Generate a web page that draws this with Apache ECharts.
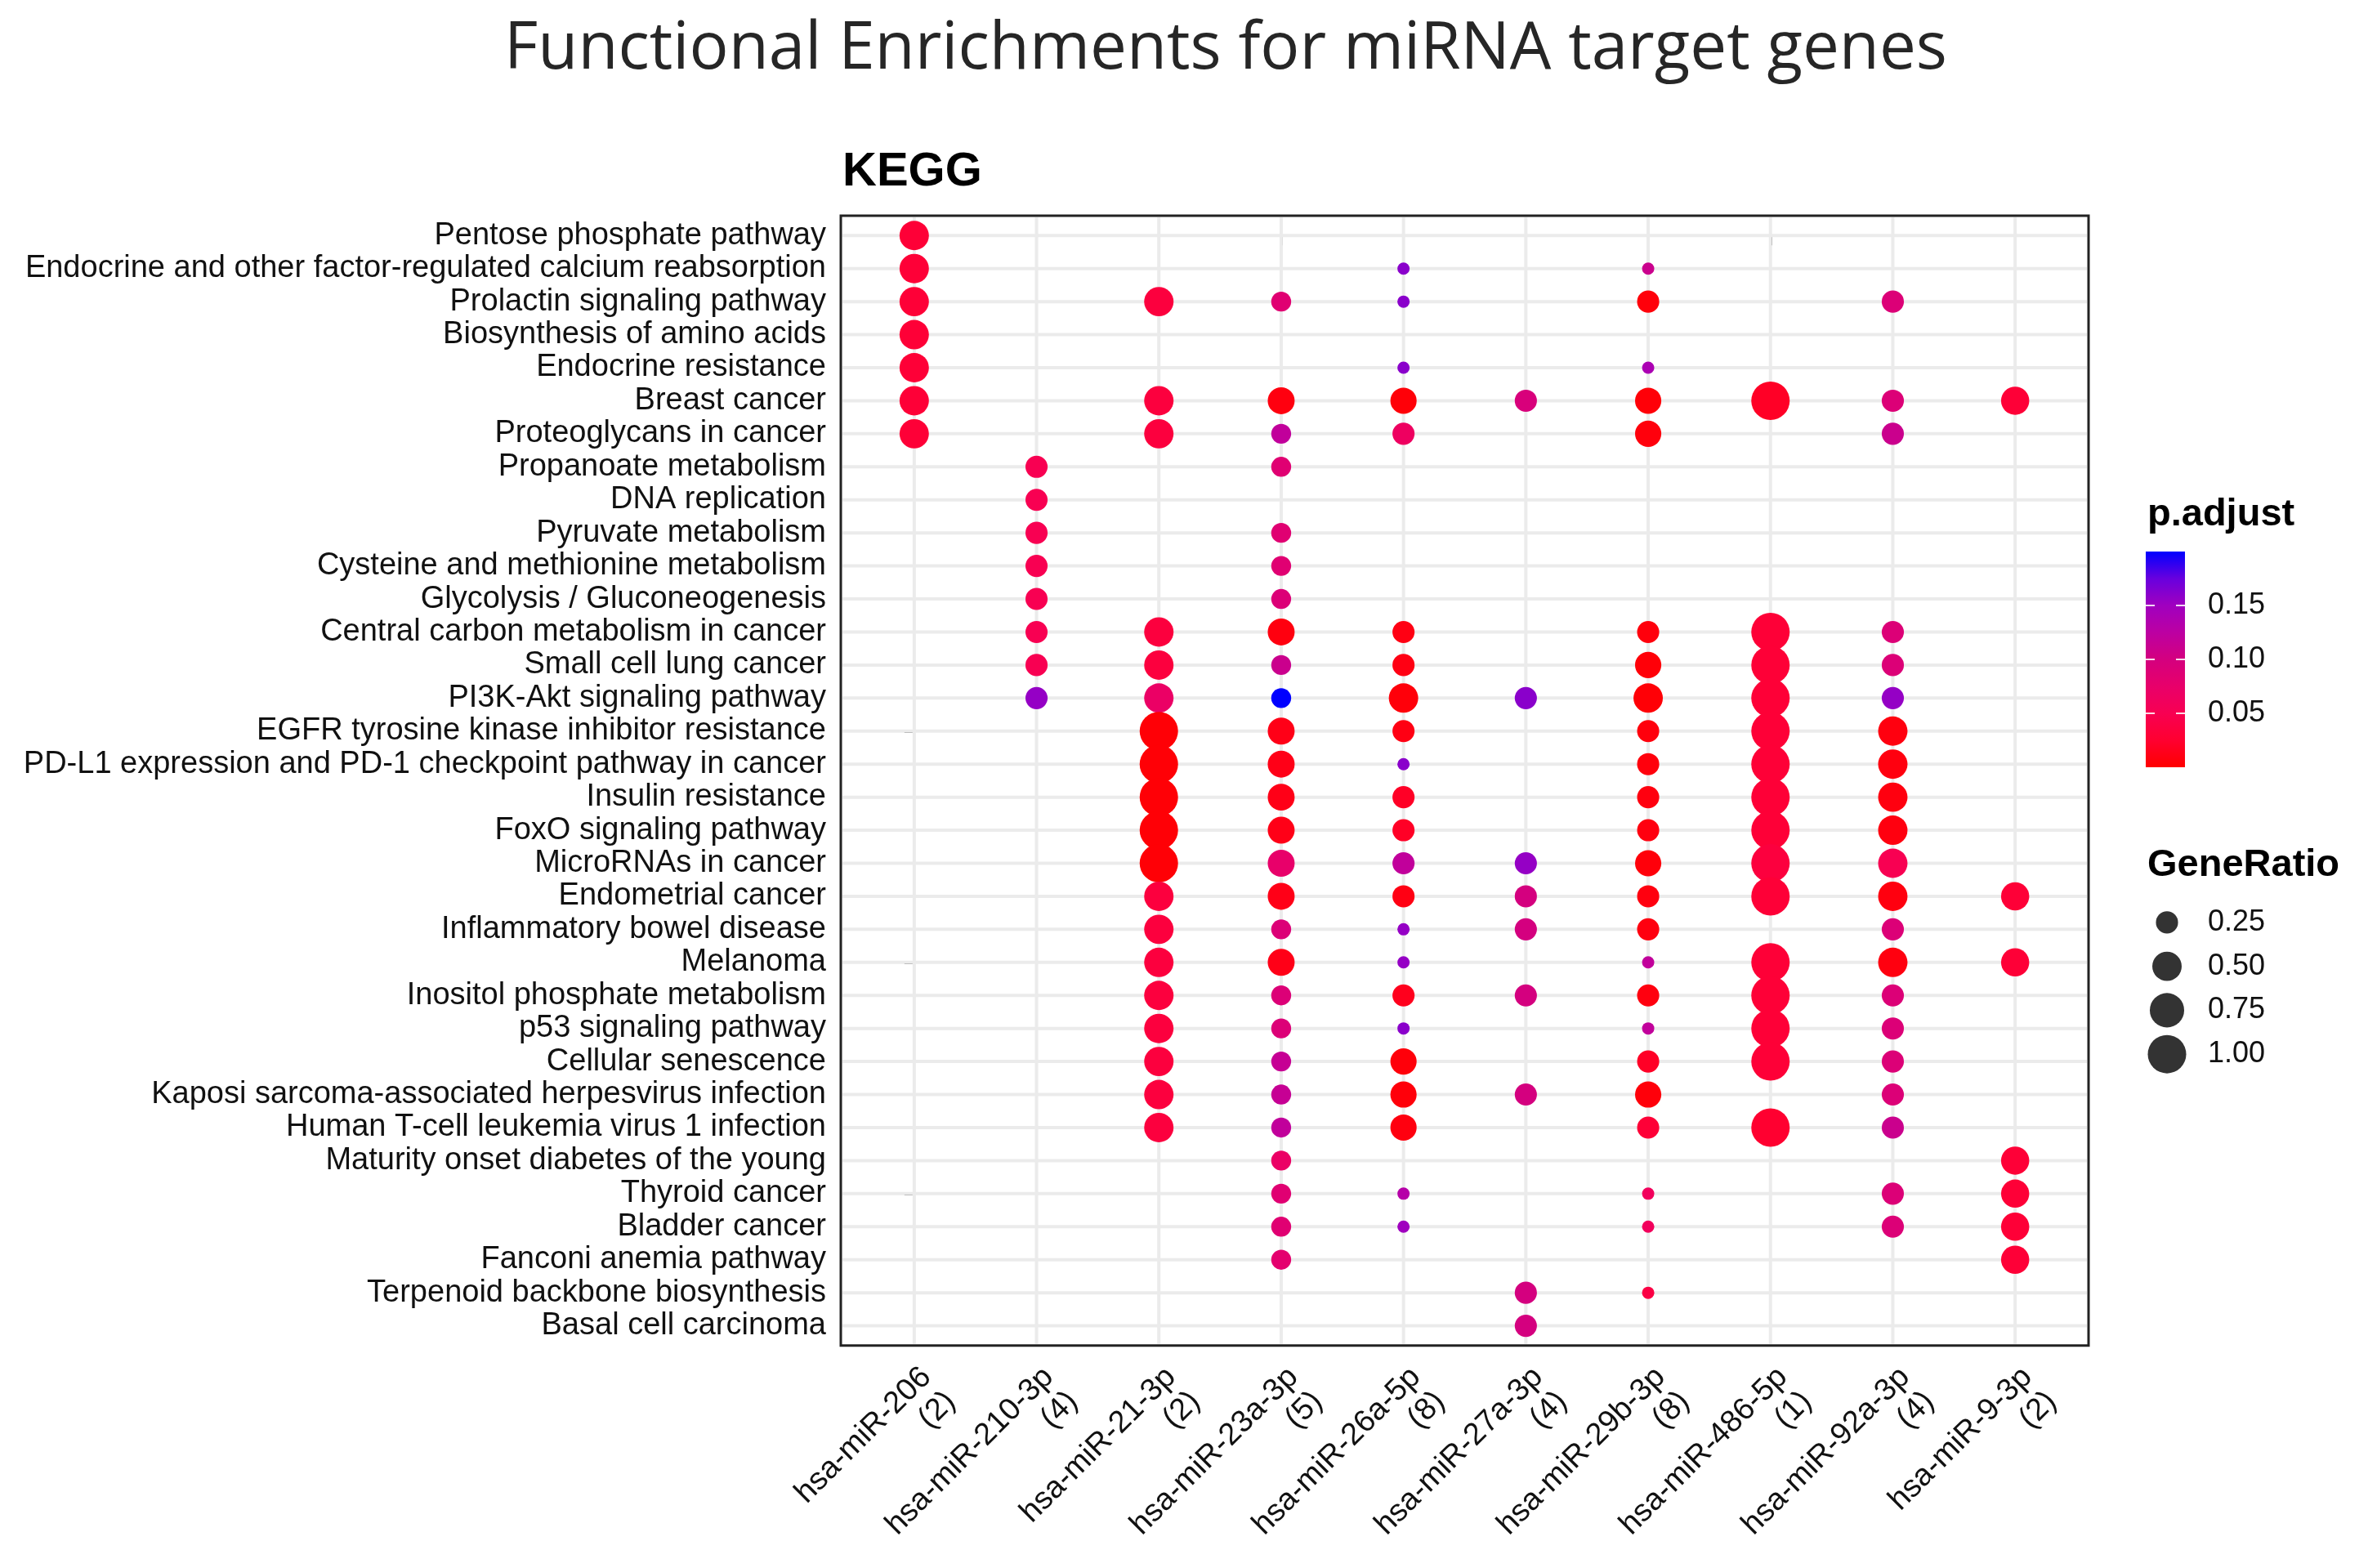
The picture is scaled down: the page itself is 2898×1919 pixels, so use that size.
<!DOCTYPE html>
<html><head><meta charset="utf-8">
<script src="https://cdn.jsdelivr.net/npm/echarts@6/dist/echarts.min.js"></script>
<style>html,body{margin:0;padding:0;background:#fff}#c{width:2898px;height:1919px}</style>
</head><body><div id="c"></div>
<script>
// ---------------- data ----------------
const titleText = 'Functional Enrichments for miRNA target genes';
const panelTitle = 'KEGG';
const mirnaNames = ['hsa-miR-206','hsa-miR-210-3p','hsa-miR-21-3p','hsa-miR-23a-3p','hsa-miR-26a-5p',
                    'hsa-miR-27a-3p','hsa-miR-29b-3p','hsa-miR-486-5p','hsa-miR-92a-3p','hsa-miR-9-3p'];
const mirnaCounts = [2, 4, 2, 5, 8, 4, 8, 1, 4, 2];
const pathways = [
  'Pentose phosphate pathway',
  'Endocrine and other factor-regulated calcium reabsorption',
  'Prolactin signaling pathway',
  'Biosynthesis of amino acids',
  'Endocrine resistance',
  'Breast cancer',
  'Proteoglycans in cancer',
  'Propanoate metabolism',
  'DNA replication',
  'Pyruvate metabolism',
  'Cysteine and methionine metabolism',
  'Glycolysis / Gluconeogenesis',
  'Central carbon metabolism in cancer',
  'Small cell lung cancer',
  'PI3K-Akt signaling pathway',
  'EGFR tyrosine kinase inhibitor resistance',
  'PD-L1 expression and PD-1 checkpoint pathway in cancer',
  'Insulin resistance',
  'FoxO signaling pathway',
  'MicroRNAs in cancer',
  'Endometrial cancer',
  'Inflammatory bowel disease',
  'Melanoma',
  'Inositol phosphate metabolism',
  'p53 signaling pathway',
  'Cellular senescence',
  'Kaposi sarcoma-associated herpesvirus infection',
  'Human T-cell leukemia virus 1 infection',
  'Maturity onset diabetes of the young',
  'Thyroid cancer',
  'Bladder cancer',
  'Fanconi anemia pathway',
  'Terpenoid backbone biosynthesis',
  'Basal cell carcinoma'
];
// each entry: [pathway index, GeneRatio, p.adjust]
const miR206 = [[0,0.5,0.03],[1,0.5,0.03],[2,0.5,0.03],[3,0.5,0.03],[4,0.5,0.03],[5,0.5,0.03],[6,0.5,0.03]];
const miR210_3p = [[7,0.25,0.05],[8,0.25,0.05],[9,0.25,0.05],[10,0.25,0.05],[11,0.25,0.05],[12,0.25,0.05],[13,0.25,0.05],[14,0.25,0.155]];
const miR21_3p = [[2,0.5,0.035],[5,0.5,0.035],[6,0.5,0.035],[12,0.5,0.035],[13,0.5,0.035],[14,0.5,0.07],
  [15,1.0,0.003],[16,1.0,0.003],[17,1.0,0.003],[18,1.0,0.003],[19,1.0,0.003],
  [20,0.5,0.035],[21,0.5,0.035],[22,0.5,0.035],[23,0.5,0.035],[24,0.5,0.035],[25,0.5,0.035],[26,0.5,0.035],[27,0.5,0.035]];
const miR23a_3p = [[2,0.2,0.085],[5,0.4,0.008],[6,0.2,0.12],[7,0.2,0.085],[9,0.2,0.085],[10,0.2,0.085],[11,0.2,0.09],
  [12,0.4,0.008],[13,0.2,0.11],[14,0.2,0.2],[15,0.4,0.012],[16,0.4,0.012],[17,0.4,0.012],[18,0.4,0.012],[19,0.4,0.075],
  [20,0.4,0.012],[21,0.2,0.09],[22,0.4,0.012],[23,0.2,0.09],[24,0.2,0.09],[25,0.2,0.115],[26,0.2,0.115],[27,0.2,0.12],
  [28,0.2,0.07],[29,0.2,0.085],[30,0.2,0.085],[31,0.2,0.08]];
const miR26a_5p = [[1,0.125,0.16],[2,0.125,0.16],[4,0.125,0.16],[5,0.375,0.004],[6,0.25,0.065],[12,0.25,0.01],[13,0.25,0.01],
  [14,0.5,0.005],[15,0.25,0.01],[16,0.125,0.16],[17,0.25,0.02],[18,0.25,0.02],[19,0.25,0.12],[20,0.25,0.01],[21,0.125,0.155],
  [22,0.125,0.155],[23,0.25,0.015],[24,0.125,0.16],[25,0.375,0.005],[26,0.375,0.005],[27,0.375,0.008],[29,0.125,0.13],[30,0.125,0.15]];
const miR27a_3p = [[5,0.25,0.095],[14,0.25,0.16],[19,0.25,0.155],[20,0.25,0.1],[21,0.25,0.1],[23,0.25,0.1],[26,0.25,0.1],[32,0.25,0.1],[33,0.25,0.1]];
const miR29b_3p = [[1,0.125,0.11],[2,0.25,0.005],[4,0.125,0.14],[5,0.375,0.004],[6,0.375,0.006],[12,0.25,0.006],[13,0.375,0.004],
  [14,0.5,0.003],[15,0.25,0.006],[16,0.25,0.006],[17,0.25,0.008],[18,0.25,0.008],[19,0.375,0.005],[20,0.25,0.008],[21,0.25,0.008],
  [22,0.125,0.12],[23,0.25,0.008],[24,0.125,0.12],[25,0.25,0.02],[26,0.375,0.005],[27,0.25,0.03],[29,0.125,0.06],[30,0.125,0.06],[32,0.125,0.04]];
const miR486_5p = [[5,1.0,0.02],[12,1.0,0.03],[13,1.0,0.03],[14,1.0,0.03],[15,1.0,0.03],[16,1.0,0.03],[17,1.0,0.03],[18,1.0,0.03],
  [19,1.0,0.035],[20,1.0,0.03],[22,1.0,0.03],[23,1.0,0.03],[24,1.0,0.03],[25,1.0,0.03],[27,1.0,0.025]];
const miR92a_3p = [[2,0.25,0.09],[5,0.25,0.09],[6,0.25,0.11],[12,0.25,0.09],[13,0.25,0.09],[14,0.25,0.155],[15,0.5,0.008],[16,0.5,0.008],
  [17,0.5,0.008],[18,0.5,0.008],[19,0.5,0.05],[20,0.5,0.008],[21,0.25,0.09],[22,0.5,0.008],[23,0.25,0.09],[24,0.25,0.09],[25,0.25,0.09],
  [26,0.25,0.09],[27,0.25,0.11],[29,0.25,0.09],[30,0.25,0.09]];
const miR9_3p = [[5,0.45,0.03],[20,0.45,0.03],[22,0.45,0.03],[28,0.45,0.03],[29,0.45,0.03],[30,0.45,0.03],[31,0.45,0.03]];
const colorbarTicks = [0.05, 0.10, 0.15];
const pAdjustRange = [0, 0.2];
const geneRatioBreaks = [0.25, 0.50, 0.75, 1.00];

// ---------------- styling ----------------
const columns = [miR206, miR210_3p, miR21_3p, miR23a_3p, miR26a_5p, miR27a_3p, miR29b_3p, miR486_5p, miR92a_3p, miR9_3p];
const xLabels = mirnaNames.map((n, i) => n + '\n(' + mirnaCounts[i] + ')');
const dots = [];
columns.forEach((col, c) => col.forEach(d => dots.push([c, d[0], d[1], d[2]])));

const GR_MIN = 0.125, GR_MAX = 1.0;
function dotSize(gr) {
  const s = Math.sqrt(Math.max(0, (gr - GR_MIN) / (GR_MAX - GR_MIN)));
  return 15 + 32 * s;
}
// red (low p.adjust) -> blue (high p.adjust), evenly spaced stops
const gradStops = ['#FF0000', '#FF0030', '#F80052', '#E8006A', '#D4007F', '#BC00A2', '#A000BF', '#6800DE', '#0000FF'];

const font = 'Liberation Sans, Arial, sans-serif';
const txt = '#111';

const chart = echarts.init(document.getElementById('c'), null, {renderer: 'canvas'});
chart.setOption({
  backgroundColor: '#ffffff',
  animation: false,
  textStyle: {fontFamily: font},
  graphic: [
    {type:'text', x: 1500, y: 61, style:{text: titleText, font: '400 80px "Open Sans", sans-serif', fill:'#262626', align:'center', verticalAlign:'middle'}},
    {type:'text', x: 1031, y: 211, style:{text: panelTitle, font: 'bold 58px ' + font, fill:'#000', align:'left', verticalAlign:'middle'}},
    {type:'text', x: 2628, y: 630, style:{text: 'p.adjust', font: 'bold 47px ' + font, fill:'#000', align:'left', verticalAlign:'middle'}},
    {type:'text', x: 2628, y: 1059, style:{text: 'GeneRatio', font: 'bold 47px ' + font, fill:'#000', align:'left', verticalAlign:'middle'}}
  ],
  grid: [
    {left: 1029, top: 264, width: 1527, height: 1386, show: true, borderColor: '#222', borderWidth: 3, backgroundColor: '#fff'},
    {left: 2626, top: 675, width: 48, height: 264},
    {left: 2602, top: 1102, width: 100, height: 215}
  ],
  xAxis: [
    {gridIndex: 0, type: 'value', min: -0.6, max: mirnaNames.length - 0.4,
     axisLine: {show: false}, splitLine: {show: false},
     axisTick: {show: true, customValues: mirnaNames.map((n, i) => i), length: 12, lineStyle: {color: '#333', width: 3}},
     axisLabel: {customValues: mirnaNames.map((n, i) => i), formatter: v => xLabels[Math.round(v)],
                 rotate: 45, margin: 18, fontSize: 38, color: txt, fontFamily: font,
                 align: 'right', verticalAlign: 'top', lineHeight: 42}},
    {gridIndex: 1, type: 'category', data: ['p.adjust'], show: false},
    {gridIndex: 2, type: 'value', min: 0, max: 1, show: false}
  ],
  yAxis: [
    {gridIndex: 0, type: 'value', inverse: true, min: -0.6, max: pathways.length - 0.4,
     axisLine: {show: false}, splitLine: {show: false},
     axisTick: {show: true, customValues: pathways.map((n, i) => i), length: 12, lineStyle: {color: '#333', width: 3}},
     axisLabel: {customValues: pathways.map((n, i) => i), formatter: v => pathways[Math.round(v)],
                 margin: 18, fontSize: 38, color: txt, fontFamily: font}},
    {gridIndex: 1, type: 'value', min: pAdjustRange[0], max: pAdjustRange[1], position: 'right', z: 10,
     axisLine: {show: false}, splitLine: {show: false},
     axisTick: {show: true, inside: true, customValues: colorbarTicks, length: 11, lineStyle: {color: 'rgba(255,255,255,0.85)', width: 2}},
     axisLabel: {customValues: colorbarTicks, formatter: v => v.toFixed(2), margin: 28, fontSize: 36, color: txt, fontFamily: font}},
    {gridIndex: 1, type: 'value', min: pAdjustRange[0], max: pAdjustRange[1], position: 'left', z: 10,
     axisLine: {show: false}, splitLine: {show: false}, axisLabel: {show: false},
     axisTick: {show: true, inside: true, customValues: colorbarTicks, length: 11, lineStyle: {color: 'rgba(255,255,255,0.85)', width: 2}}},
    {gridIndex: 2, type: 'category', inverse: true, position: 'right', data: geneRatioBreaks.map(v => v.toFixed(2)),
     axisLine: {show: false}, axisTick: {show: false}, splitLine: {show: false},
     axisLabel: {margin: 0, fontSize: 36, color: txt, fontFamily: font}}
  ],
  visualMap: [{
    type: 'continuous', show: false, seriesIndex: 2, dimension: 3,
    min: pAdjustRange[0], max: pAdjustRange[1], inRange: {color: gradStops}
  }],
  series: [
    {type: 'custom', xAxisIndex: 0, yAxisIndex: 0, z: 1, silent: true,
     data: mirnaNames.map((n, i) => [i, 0]),
     renderItem: (params, api) => {
       const cs = params.coordSys; const p = api.coord([api.value(0), 0]);
       return {type: 'line', shape: {x1: p[0], y1: cs.y + 2, x2: p[0], y2: cs.y + cs.height - 2}, style: {stroke: '#EBEBEB', lineWidth: 4}};
     }},
    {type: 'custom', xAxisIndex: 0, yAxisIndex: 0, z: 1, silent: true,
     data: pathways.map((n, i) => [0, i]),
     renderItem: (params, api) => {
       const cs = params.coordSys; const p = api.coord([0, api.value(1)]);
       return {type: 'line', shape: {x1: cs.x + 2, y1: p[1], x2: cs.x + cs.width - 2, y2: p[1]}, style: {stroke: '#EBEBEB', lineWidth: 4}};
     }},
    {type: 'scatter', xAxisIndex: 0, yAxisIndex: 0, z: 3, data: dots,
     symbol: 'circle', symbolSize: v => dotSize(v[2]), itemStyle: {opacity: 1, borderWidth: 0}},
    {type: 'bar', xAxisIndex: 1, yAxisIndex: 1, z: 2, silent: true, barWidth: '100%',
     data: [pAdjustRange[1]],
     itemStyle: {color: {type: 'linear', x: 0, y: 1, x2: 0, y2: 0,
       colorStops: gradStops.map((c, i) => ({offset: i / (gradStops.length - 1), color: c}))}}},
    {type: 'scatter', xAxisIndex: 2, yAxisIndex: 3, z: 3, silent: true,
     data: geneRatioBreaks.map((v, i) => [0.5, i, v]),
     symbol: 'circle', symbolSize: v => dotSize(v[2]), itemStyle: {color: '#000'}}
  ]
});
</script></body></html>
